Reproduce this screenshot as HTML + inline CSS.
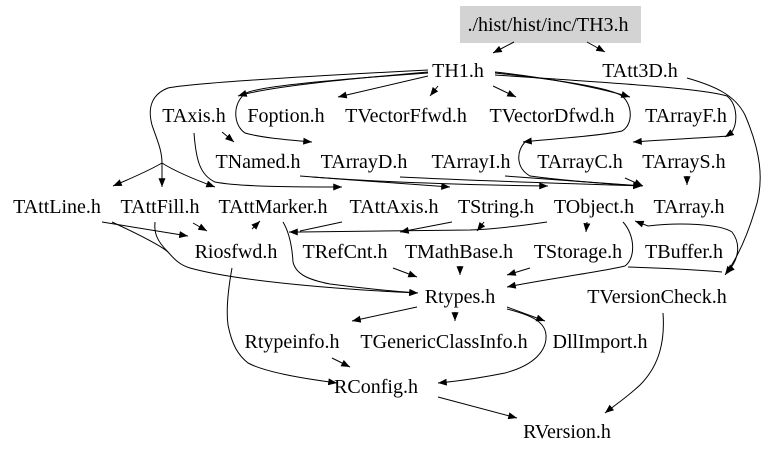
<!DOCTYPE html>
<html>
<head>
<meta charset="utf-8">
<style>
html,body{margin:0;padding:0;background:#fff;}
svg{display:block;}
text{font-family:"Liberation Serif","DejaVu Serif",serif;font-size:20px;fill:#000;}
</style>
</head>
<body>
<svg width="779" height="454" viewBox="0 0 779 454" xmlns="http://www.w3.org/2000/svg">
<defs>
<marker id="a" viewBox="0 0 10 8" refX="10" refY="4" markerWidth="9" markerHeight="7" markerUnits="userSpaceOnUse" orient="auto">
<path d="M0,0 L10,4 L0,8 z" fill="#000"/>
</marker>
<marker id="s" viewBox="0 0 10 8" refX="10" refY="4" markerWidth="9" markerHeight="7" markerUnits="userSpaceOnUse" orient="auto-start-reverse">
<path d="M0,0 L10,4 L0,8 z" fill="#000"/>
</marker>
</defs>
<rect width="779" height="454" fill="#fff"/>
<rect x="460" y="6" width="181" height="37" fill="#d3d3d3"/>

<g fill="none" stroke="#000" stroke-width="1">
<!-- TH3 -->
<path d="M514,42 L493,53" marker-end="url(#a)"/>
<path d="M587,42 L605,52" marker-end="url(#a)"/>
<!-- TH1 left -->
<path d="M428,72 C360,78 270,86 238,96" marker-end="url(#a)"/>
<path d="M428,73 C330,80 262,86 246,93 C232,103 233,125 245,133 C262,138 290,140 312,142" marker-end="url(#a)"/>
<path d="M428,70 C330,75 200,82 168,88 C150,95 148,110 152,125 C157,140 162,150 162,163"/>
<path d="M162,163 C150,170 132,178 113,186" marker-end="url(#a)"/>
<path d="M162,163 L162,187" marker-end="url(#a)"/>
<path d="M162,163 C176,172 196,180 215,187" marker-end="url(#a)"/>
<path d="M428,76 L338,97" marker-end="url(#a)"/>
<path d="M438,86 L430,96" marker-end="url(#a)"/>
<!-- TH1 right -->
<path d="M493,86 L516,97" marker-end="url(#a)"/>
<path d="M495,72 C550,78 600,88 630,97" marker-end="url(#a)"/>
<path d="M495,73 C560,80 610,88 622,96 C633,105 633,125 622,131 C600,136 550,139 523,142" marker-end="url(#a)"/>
<path d="M495,75 C600,82 700,88 727,96 C738,105 738,125 731,133 L725,137" marker-end="url(#a)"/>
<path d="M729,136 C700,138 660,140 633,142" marker-end="url(#a)"/>
<!-- TAtt3D -->
<path d="M687,78 C715,86 735,95 745,115 C760,150 765,180 755,210 C746,240 736,260 725,275" marker-end="url(#a)"/>
<!-- TAxis -->
<path d="M222,132 L234,142" marker-end="url(#a)"/>
<path d="M194,133 C196,160 200,175 215,182 C240,187 300,187 342,187" marker-end="url(#a)"/>
<!-- row4 -> row5 -->
<path d="M300,176 C350,180 410,184 450,187" marker-end="url(#a)"/>
<path d="M312,177 C380,182 470,185 548,186" marker-end="url(#a)"/>
<path d="M400,177 C480,181 580,184 642,186" marker-end="url(#a)"/>
<path d="M505,176 C560,180 610,184 642,186" marker-end="url(#a)"/>
<path d="M625,178 L643,186" marker-end="url(#a)"/>
<path d="M525,142 C516,152 516,168 530,176 C560,180 610,184 642,186"/>
<path d="M687,176 L687,185" marker-end="url(#a)"/>
<!-- row5 -> row6 -->
<path d="M484,222 L477,231" marker-end="url(#a)"/>
<path d="M452,222 L400,232" marker-end="url(#a)"/>
<path d="M547,222 C520,226 495,229 470,230 L300,232 L289,232" marker-end="url(#a)"/>
<path d="M342,222 L300,231"/>
<path d="M587,222 L586,232" marker-end="url(#a)"/>
<path d="M623,222 C635,235 636,258 625,266 C600,272 540,280 507,287" marker-end="url(#a)"/>
<path d="M635,221 L648,226 C680,222 720,224 732,232 C742,245 738,262 726,273" marker-start="url(#s)" marker-end="url(#a)"/>
<path d="M628,267 C660,268 700,270 722,272"/>
<!-- left group -->
<path d="M102,222 L188,236" marker-end="url(#a)"/>
<path d="M112,222 C140,235 160,245 168,252 C175,260 180,265 190,268 C240,282 350,290 418,293" marker-end="url(#a)"/>
<path d="M155,222 C154,232 156,240 168,252"/>
<path d="M193,223 L207,231" marker-end="url(#a)"/>
<path d="M252,229 L260,221" marker-end="url(#a)"/>
<path d="M283,222 C289,232 292,245 293,262 C296,275 310,280 330,284 C360,288 390,291 418,293" marker-end="url(#a)"/>
<!-- row6 -> Rtypes -->
<path d="M393,268 L417,277" marker-end="url(#a)"/>
<path d="M460,266 L460,275" marker-end="url(#a)"/>
<path d="M530,268 L507,275" marker-end="url(#a)"/>
<!-- Rtypes -> row8 -->
<path d="M417,307 L352,321" marker-end="url(#a)"/>
<path d="M455,312 L455,321" marker-end="url(#a)"/>
<path d="M507,307 L545,321" marker-end="url(#a)"/>
<path d="M507,309 C530,315 545,321 546,335 C547,350 535,365 505,373 C480,378 460,381 438,383" marker-end="url(#a)"/>
<!-- to RConfig -->
<path d="M332,358 L350,367" marker-end="url(#a)"/>
<path d="M232,268 C228,290 226,310 228,325 C232,345 238,355 248,363 C265,372 300,378 337,383" marker-end="url(#a)"/>
<!-- to RVersion -->
<path d="M438,397 L517,418" marker-end="url(#a)"/>
<path d="M663,313 C665,340 660,365 640,385 C626,398 615,405 605,413" marker-end="url(#a)"/>
</g>

<g text-anchor="middle">
<text x="548" y="31">./hist/hist/inc/TH3.h</text>
<text x="458" y="77">TH1.h</text>
<text x="640" y="77">TAtt3D.h</text>
<text x="194" y="122">TAxis.h</text>
<text x="286" y="122">Foption.h</text>
<text x="406" y="122">TVectorFfwd.h</text>
<text x="552" y="122">TVectorDfwd.h</text>
<text x="686" y="122">TArrayF.h</text>
<text x="258" y="168">TNamed.h</text>
<text x="364" y="168">TArrayD.h</text>
<text x="471" y="168">TArrayI.h</text>
<text x="580" y="168">TArrayC.h</text>
<text x="684" y="168">TArrayS.h</text>
<text x="57" y="213">TAttLine.h</text>
<text x="160" y="213">TAttFill.h</text>
<text x="273" y="213">TAttMarker.h</text>
<text x="394" y="213">TAttAxis.h</text>
<text x="496" y="213">TString.h</text>
<text x="594" y="213">TObject.h</text>
<text x="689" y="213">TArray.h</text>
<text x="236" y="258">Riosfwd.h</text>
<text x="345" y="258">TRefCnt.h</text>
<text x="459" y="258">TMathBase.h</text>
<text x="578" y="258">TStorage.h</text>
<text x="684" y="258">TBuffer.h</text>
<text x="460" y="303">Rtypes.h</text>
<text x="657" y="303">TVersionCheck.h</text>
<text x="292" y="348">Rtypeinfo.h</text>
<text x="444" y="348">TGenericClassInfo.h</text>
<text x="600" y="348">DllImport.h</text>
<text x="376" y="393">RConfig.h</text>
<text x="567" y="438">RVersion.h</text>
</g>
</svg>
</body>
</html>
